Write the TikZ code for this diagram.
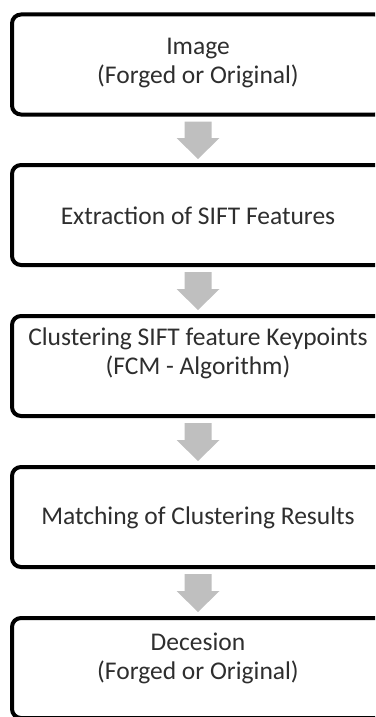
\documentclass[tikz,border=0pt]{standalone}
\usepackage{fontspec}
\setmainfont{Carlito}
\usetikzlibrary{calc}
\definecolor{txt}{HTML}{2E2E2E}
\definecolor{arr}{HTML}{BFBFBF}
\begin{document}
\begin{tikzpicture}[x=1pt,y=1pt,
  stage/.style={draw=black, line width=4pt, rounded corners=9pt, fill=white,
    minimum width=372pt, minimum height=100pt, inner sep=0pt, outer sep=0pt},
  lbl/.style={align=center, text=txt, inner sep=0pt, font=\fontsize{25.5}{29}\selectfont},
  flowarrow/.style={fill=arr, draw=none}
  ]
\useasboundingbox (0,0) rectangle (375,-717);
\clip (0,0) rectangle (375,-717);
\node[stage] (b1) at (198,-64.5) {};
\node[stage] (b2) at (198,-215) {};
\node[stage] (b3) at (198,-366) {};
\node[stage] (b4) at (198,-517) {};
\node[stage] (b5) at (198,-668) {};
\node[lbl] (t1) at ($(b1.center)+(0,1.5)$) {Image\\(Forged or Original)};
\node[lbl] (t2) at ($(b2.center)+(0,-1)$) {Extraction of SIFT Features};
\node[lbl] (t3) at ($(b3.center)+(0,13)$) {Clustering SIFT feature Keypoints\\(FCM - Algorithm)};
\node[lbl] (t4) at ($(b4.center)+(0,-1)$) {Matching of Clustering Results};
\node[lbl] (t5) at ($(b5.center)+(0,10)$) {Decesion\\(Forged or Original)};
\foreach \a/\b in {b1/b2,b2/b3,b3/b4,b4/b5}{
  \coordinate (s) at ($(\a.south)+(0,-7)$);
  \coordinate (t) at ($(\b.north)+(0,6)$);
  \fill[flowarrow] ($(s)+(-13.5,0)$) -- ($(s)+(13.5,0)$) -- ($(t)+(13.5,21)$)
    -- ($(t)+(21.5,21)$) -- (t) -- ($(t)+(-21.5,21)$) -- ($(t)+(-13.5,21)$) -- cycle;
}
\end{tikzpicture}
\end{document}
